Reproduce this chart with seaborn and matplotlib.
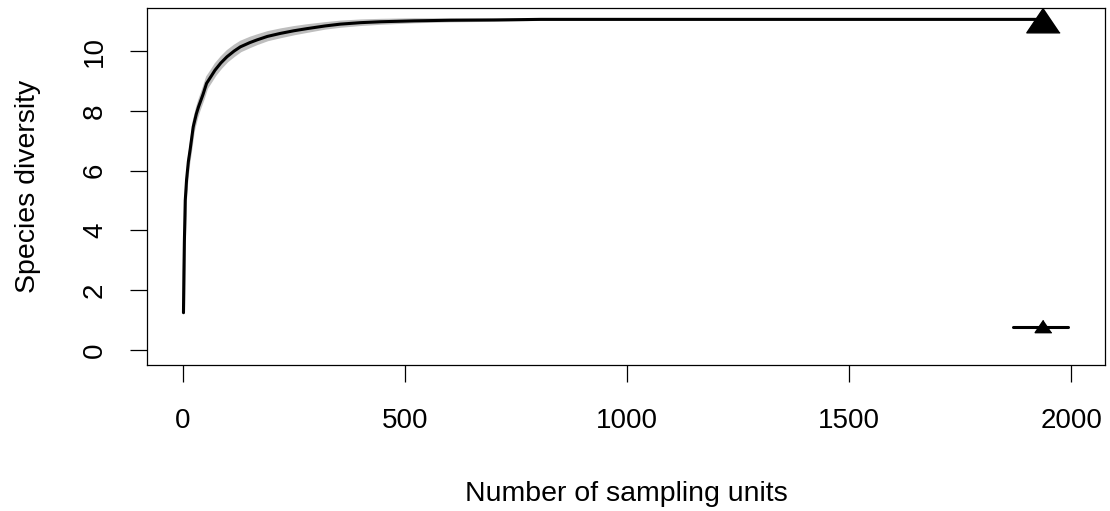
import matplotlib
matplotlib.use("Agg")
import matplotlib.pyplot as plt
import pandas as pd
import seaborn as sns

# Rarefaction curve: expected species diversity by number of sampling units
units = [1, 2, 3, 5, 8, 12, 16, 23, 30, 35, 45, 53, 63, 72, 85, 99, 115, 129,
         150, 166, 190, 219, 250, 279, 320, 354, 400, 445, 520, 600, 700, 806,
         1000, 1200, 1500, 1935]
diversity = [1.25, 2.6, 3.6, 5.0, 5.7, 6.3, 6.7, 7.47, 7.9, 8.14, 8.55, 8.92,
             9.15, 9.36, 9.6, 9.81, 10.0, 10.14, 10.28, 10.37, 10.49, 10.59,
             10.68, 10.75, 10.84, 10.9, 10.95, 10.98, 11.01, 11.03, 11.04, 11.06,
             11.06, 11.06, 11.06, 11.06]
ci_upper = [1.25, 2.64, 3.67, 5.10, 5.83, 6.46, 6.88, 7.67, 8.11, 8.36, 8.78,
            9.15, 9.37, 9.58, 9.81, 10.02, 10.20, 10.33, 10.46, 10.54, 10.65,
            10.74, 10.82, 10.88, 10.95, 11.00, 11.04, 11.06, 11.08, 11.08,
            11.07, 11.06, 11.06, 11.06, 11.06, 11.06]
ci_lower = [1.25, 2.57, 3.55, 4.93, 5.60, 6.18, 6.57, 7.33, 7.75, 7.99, 8.40,
            8.77, 9.00, 9.21, 9.45, 9.67, 9.86, 10.01, 10.15, 10.25, 10.38,
            10.48, 10.58, 10.66, 10.77, 10.83, 10.89, 10.93, 10.98, 11.01,
            11.03, 11.06, 11.06, 11.06, 11.06, 11.06]

# Observed reference sample (triangle)
observed_units = [1935]
observed_div = [11.04]

# Second estimate: short segment with its observed point
second_units = [1869, 1993]
second_div = [0.77, 0.77]
second_obs_units = [1935]
second_obs_div = [0.79]

x_ticks = [0, 500, 1000, 1500, 2000]
y_ticks = [0, 2, 4, 6, 8, 10]

sns.set_theme(style="ticks")
plt.rcParams["font.family"] = ["Liberation Sans", "DejaVu Sans"]

W, H = 1110, 511
fig = plt.figure(figsize=(W / 100, H / 100), dpi=100)
left, right, top, bottom = 147, 1105, 8, 365
ax = fig.add_axes([left / W, 1 - bottom / H, (right - left) / W, (bottom - top) / H])

curve = pd.DataFrame({"units": units, "diversity": diversity})
ax.fill_between(units, ci_lower, ci_upper, color="#bebebe", linewidth=1.5,
                edgecolor="#bebebe", zorder=1)
sns.lineplot(data=curve, x="units", y="diversity", color="black",
             linewidth=2.2, ax=ax, zorder=3)

second = pd.DataFrame({"units": second_units, "diversity": second_div})
sns.lineplot(data=second, x="units", y="diversity", color="black",
             linewidth=2.2, ax=ax, zorder=3)

tri = [(0, 1), (-1.35, -1), (1.35, -1)]
ax.plot(observed_units, observed_div, linestyle="none", marker=tri,
        markersize=24, color="black", zorder=4)
ax.plot(second_obs_units, second_obs_div, linestyle="none", marker=tri,
        markersize=12, color="black", zorder=4)

ax.set_xlim(-81.1, 2075.7)
ax.set_ylim(-0.50, 11.44)
ax.set_xticks(x_ticks)
ax.set_xticklabels([str(v) for v in x_ticks])
ax.set_yticks(y_ticks)
ax.set_yticklabels([str(v) for v in y_ticks], rotation=90, va="center")

for s in ax.spines.values():
    s.set_visible(True)
    s.set_color("black")
    s.set_linewidth(0.9)

ax.tick_params(axis="both", direction="out", length=12, width=0.9,
               color="black", labelsize=20, labelcolor="black")
ax.tick_params(axis="x", pad=19)
ax.tick_params(axis="y", pad=16)

ax.set_xlabel("Number of sampling units", fontsize=20.5, color="black")
ax.set_ylabel("Species diversity", fontsize=20.5, color="black")
ax.xaxis.set_label_coords(0.5, (bottom - 481) / (bottom - top))
ax.yaxis.set_label_coords((41 - left) / (right - left), 0.5)

fig.savefig("out.png", dpi=100)
